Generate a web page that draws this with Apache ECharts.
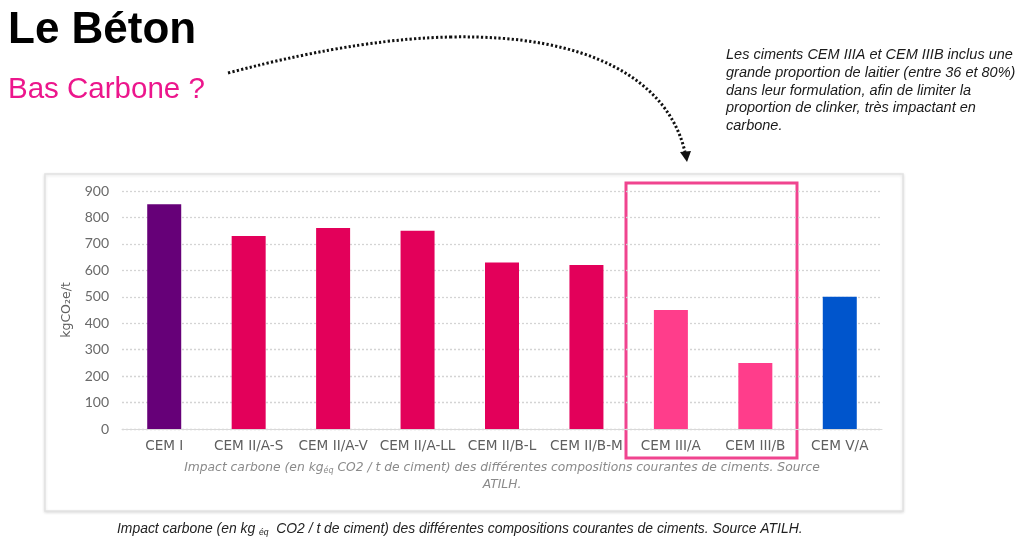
<!DOCTYPE html>
<html>
<head>
<meta charset="utf-8">
<script src="https://cdn.jsdelivr.net/npm/echarts@6/dist/echarts.min.js"></script>
<style>
  html, body { margin: 0; padding: 0; background: #fff; }
  #main-chart { width: 1024px; height: 539px; }
</style>
</head>
<body>
<div id="main-chart"></div>
<script>
// Données du graphique
const categories = ['CEM I', 'CEM II/A-S', 'CEM II/A-V', 'CEM II/A-LL', 'CEM II/B-L', 'CEM II/B-M', 'CEM III/A', 'CEM III/B', 'CEM V/A'];
const values = [850, 730, 760, 750, 630, 620, 450, 250, 500];
const yTicks = [0, 100, 200, 300, 400, 500, 600, 700, 800, 900];

// couleurs des barres (une par catégorie)
const barColors = ['#660078', '#e3005a', '#e3005a', '#e3005a', '#e3005a', '#e3005a', '#ff3d8b', '#ff3d8b', '#0055cc'];

const chartDom = document.getElementById('main-chart');
const myChart = echarts.init(chartDom);

const noteLines = [
    'Les ciments CEM IIIA et CEM IIIB inclus une',
    'grande proportion de laitier (entre 36 et 80%)',
    'dans leur formulation, afin de limiter la',
    'proportion de clinker, très impactant en',
    'carbone.'
];

const option = {
    backgroundColor: '#fff',
    animation: false,
    grid: { left: 122, right: 142, top: 191, bottom: 110 },
    xAxis: {
        type: 'category',
        data: categories,
        axisLine: { lineStyle: { color: '#d9d9d9', width: 1 } },
        axisTick: { show: false },
        axisLabel: { color: '#5f5f5f', fontSize: 13.6, fontFamily: 'DejaVu Sans', margin: 10, interval: 0 }
    },
    yAxis: {
        type: 'value',
        min: yTicks[0],
        max: yTicks[yTicks.length - 1],
        interval: 100,
        name: 'kgCO₂e/t',
        nameLocation: 'middle',
        nameGap: 41,
        nameTextStyle: { color: '#5f5f5f', fontSize: 12.5, fontFamily: 'DejaVu Sans' },
        axisLine: { show: false },
        axisTick: { show: false },
        axisLabel: { color: '#6a6a6a', fontSize: 14, fontFamily: 'Lato', margin: 13 },
        splitLine: { lineStyle: { color: '#d4d4d4', type: [2, 2], width: 1.3 } }
    },
    series: [{
        type: 'bar',
        barWidth: 34,
        data: values.map((v, i) => ({ value: v, itemStyle: { color: barColors[i] } }))
    }],
    graphic: [
        // cadre du graphique
        {
            type: 'rect', z: -1,
            shape: { x: 45, y: 174, width: 858, height: 337 },
            style: { fill: '#fff', stroke: '#e2e2e2', lineWidth: 1.5, shadowBlur: 3, shadowColor: 'rgba(0,0,0,0.12)', shadowOffsetY: 1 }
        },
        // titre
        {
            type: 'text',
            style: { x: 8, y: 9, text: 'Le Béton', font: 'bold 44px "Liberation Sans", Arial, sans-serif', fill: '#000' }
        },
        {
            type: 'text',
            style: { x: 8, y: 75, text: 'Bas Carbone ?', font: '29.5px "Liberation Sans", Arial, sans-serif', fill: '#ec168c' }
        },
        // note en haut à droite
        {
            type: 'text',
            style: {
                x: 726, y: 46,
                text: noteLines.join('\n'),
                font: 'italic 14.5px "Liberation Sans", Arial, sans-serif',
                fill: '#1a1a1a',
                lineHeight: 17.8
            }
        },
        // flèche pointillée
        {
            type: 'bezierCurve',
            shape: { x1: 228, y1: 73, x2: 450, y2: 37, cpx1: 330, cpy1: 46, cpx2: 400, cpy2: 38 },
            style: { fill: null, stroke: '#111', lineWidth: 3, lineDash: [2.2, 2.2] }
        },
        {
            type: 'bezierCurve',
            shape: { x1: 450, y1: 37, x2: 685, y2: 152, cpx1: 590, cpy1: 34, cpx2: 668, cpy2: 80 },
            style: { fill: null, stroke: '#111', lineWidth: 3, lineDash: [2.2, 2.2] }
        },
        {
            type: 'polygon',
            shape: { points: [[680, 152], [691, 151], [687, 162]] },
            style: { fill: '#111' }
        },
        // encadré rose autour des CEM III
        {
            type: 'rect',
            shape: { x: 626, y: 183, width: 171, height: 275 },
            style: { fill: null, stroke: '#f0448f', lineWidth: 3 }
        },
        // légende dans le cadre
        {
            type: 'text', silent: true,
            style: {
                x: 502, y: 459,
                text: '{a|Impact carbone (en kg}{s|éq}{a| CO2 / t de ciment) des différentes compositions courantes de ciments. Source}\n{a|ATILH.}',
                align: 'center',
                lineHeight: 17,
                rich: {
                    a: { font: 'italic 12.3px "DejaVu Sans", sans-serif', fill: '#8a8a8a', lineHeight: 17 },
                    s: { font: 'italic 8px "DejaVu Sans", sans-serif', fill: '#8a8a8a', padding: [6, 0, 0, 0], lineHeight: 17 }
                }
            }
        },
        // légende sous le cadre
        {
            type: 'text',
            style: {
                x: 117, y: 522,
                text: '{a|Impact carbone (en kg }{s|éq}{a|  CO2 / t de ciment) des différentes compositions courantes de ciments. Source ATILH.}',
                rich: {
                    a: { font: 'italic 13.9px "Liberation Sans", Arial, sans-serif', fill: '#222' },
                    s: { font: 'italic 8.5px "Liberation Sans", Arial, sans-serif', fill: '#222', padding: [6, 0, 0, 0] }
                }
            }
        }
    ]
};

myChart.setOption(option);
</script>
</body>
</html>
